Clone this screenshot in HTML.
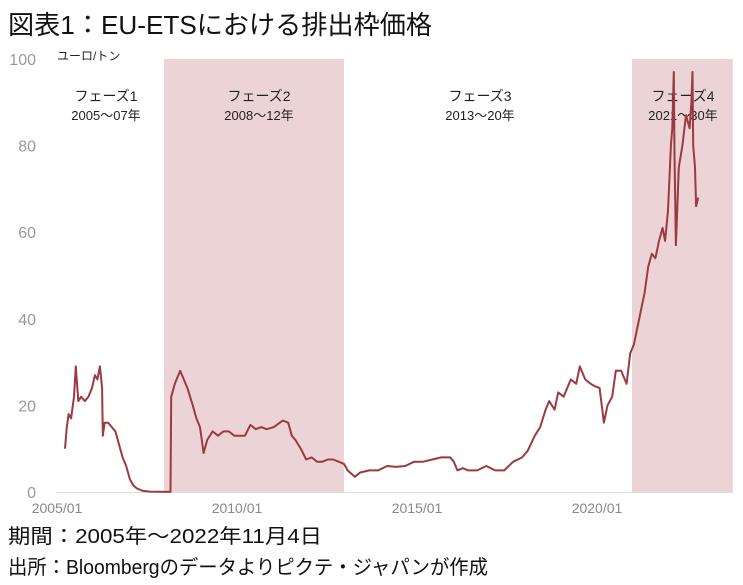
<!DOCTYPE html>
<html><head><meta charset="utf-8">
<style>
html,body{margin:0;padding:0;background:#fff;}
svg{display:block;font-family:"Liberation Sans","Noto Sans CJK JP",sans-serif;}
</style></head>
<body>
<svg id="chart" width="743" height="585" viewBox="0 0 743 585">
<text x="8" y="34" font-size="26" fill="#111" textLength="424" lengthAdjust="spacingAndGlyphs">図表1：EU-ETSにおける排出枠価格</text>
<g id="shades"></g>
<g id="yaxis"></g>
<g id="xaxis"></g>
<text x="57" y="60" font-size="12" fill="#222">ユーロ/トン</text>
<g id="phases"></g>
<g id="series"></g>
<text x="8" y="543" font-size="20" fill="#111" textLength="314" lengthAdjust="spacingAndGlyphs">期間：2005年～2022年11月4日</text>
<text x="8" y="574" font-size="20" fill="#111" textLength="480" lengthAdjust="spacingAndGlyphs">出所：Bloombergのデータよりピクテ・ジャパンが作成</text>
</svg>
<script>
const dates=[2005.25,2005.3,2005.35,2005.42,2005.5,2005.55,2005.62,2005.7,2005.8,2005.9,2006.0,2006.08,2006.15,2006.22,2006.28,2006.3,2006.35,2006.45,2006.55,2006.65,2006.75,2006.85,2006.95,2007.05,2007.15,2007.25,2007.4,2007.6,2007.9,2008.1,2008.18,2008.2,2008.3,2008.45,2008.55,2008.65,2008.8,2008.9,2009.0,2009.1,2009.2,2009.35,2009.5,2009.65,2009.8,2009.95,2010.1,2010.25,2010.4,2010.55,2010.7,2010.85,2011.05,2011.3,2011.45,2011.55,2011.65,2011.8,2011.95,2012.1,2012.25,2012.4,2012.55,2012.7,2012.85,2013.0,2013.1,2013.3,2013.45,2013.7,2013.95,2014.2,2014.45,2014.7,2014.95,2015.2,2015.45,2015.7,2015.95,2016.05,2016.15,2016.3,2016.45,2016.7,2016.95,2017.2,2017.45,2017.7,2017.95,2018.1,2018.3,2018.45,2018.6,2018.7,2018.85,2018.95,2019.1,2019.3,2019.45,2019.55,2019.7,2019.85,2019.95,2020.1,2020.22,2020.32,2020.45,2020.55,2020.7,2020.85,2020.95,2021.05,2021.15,2021.25,2021.35,2021.45,2021.55,2021.65,2021.75,2021.85,2021.92,2022.0,2022.08,2022.12,2022.16,2022.18,2022.22,2022.3,2022.4,2022.5,2022.6,2022.65,2022.68,2022.7,2022.75,2022.78,2022.84];
const prices=[10,15,18,17,22,29,21,22,21,22,24,27,26,29,24,13,16,16,15,14,11,8,6,3,1.5,0.8,0.3,0.1,0.05,0.02,0.02,22,25,28,26,24,20,17,15,9,12,14,13,14,14,13,13,13,15.5,14.5,15,14.5,15,16.5,16,13,12,10,7.5,8,7,7,7.5,7.5,7,6.5,5,3.5,4.5,5,5,6,5.8,6,7,7,7.5,8,8,7,5,5.5,5,5,6,5,5,7,8,9.5,13,15,19,21,19,23,22,26,25,29,26,25,24.5,24,16,20,22,28,28,25,32,34,38,42,46,52,55,54,58,61,58,65,80,84,97,78,57,75,80,87,84,90,97,80,75,66,68,77];
const yTicks=[0,20,40,60,80,100];
const xTickYears=[2005,2010,2015,2020];
const xTickLabels=["2005/01","2010/01","2015/01","2020/01"];
const phaseNames=["フェーズ1","フェーズ2","フェーズ3","フェーズ4"];
const phaseRanges=["2005～07年","2008～12年","2013～20年","2021～30年"];
const phaseStart=[2005,2008,2013,2021];
const phaseEnd=[2008,2013,2021,2023.8];
const NS="http://www.w3.org/2000/svg";
const X=y=>56+(y-2005)*36;
const Y=v=>492-v*4.33;
function mk(tag,attrs,parent,txt){const e=document.createElementNS(NS,tag);for(const k in attrs)e.setAttribute(k,attrs[k]);if(txt!==undefined)e.textContent=txt;parent.appendChild(e);return e;}
const shades=document.getElementById('shades');
[1,3].forEach(i=>{
 const r=mk('rect',{x:X(phaseStart[i]),y:59,width:X(phaseEnd[i])-X(phaseStart[i]),height:433,fill:'#ecd4d6'},shades);
 
 
});
const ya=document.getElementById('yaxis');
yTicks.forEach(v=>{
 const t=mk('text',{x:36,y:Y(v)+6,'font-size':16,fill:'#999','text-anchor':'end'},ya,String(v));
 
 
});
const xa=document.getElementById('xaxis');
const ax=mk('line',{x1:56,y1:492.5,x2:733,y2:492.5,stroke:'#ddd','stroke-width':1},xa);


xTickYears.forEach((yr,i)=>{
 const t=mk('text',{x:X(yr)+1,y:513,'font-size':14,fill:'#888','text-anchor':'middle'},xa,xTickLabels[i]);
 
 
});
const ph=document.getElementById('phases');
const phaseCx=[106,259,480,683];
phaseNames.forEach((n,i)=>{
 const a=mk('text',{x:phaseCx[i],y:101,'font-size':14,fill:'#222','text-anchor':'middle'},ph,n);
 
 
 const b=mk('text',{x:phaseCx[i],y:120,'font-size':13,fill:'#222','text-anchor':'middle'},ph,phaseRanges[i]);
 
 
});
const d=dates.map((t,i)=>(i?'L':'M')+X(t).toFixed(1)+','+Y(prices[i]).toFixed(1)).join(' ');
const p=mk('path',{d:d,fill:'none',stroke:'#9b3a40','stroke-width':2,'stroke-linejoin':'round'},document.getElementById('series'));


</script>
</body></html>
